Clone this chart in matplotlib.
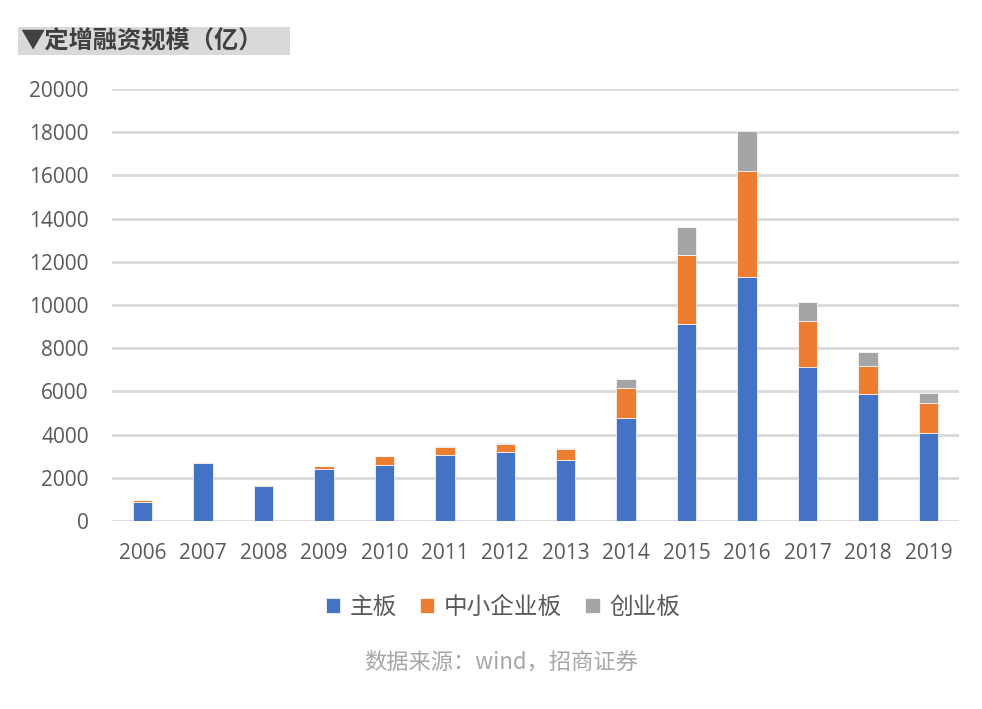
import numpy as np
import matplotlib
matplotlib.use("Agg")
import matplotlib.pyplot as plt
from matplotlib.patches import Rectangle

plt.rcParams['font.family'] = ['Noto Sans CJK SC', 'DejaVu Sans']

years = ['2006', '2007', '2008', '2009', '2010', '2011', '2012',
         '2013', '2014', '2015', '2016', '2017', '2018', '2019']
main_board = [900, 2680, 1600, 2420, 2600, 3070, 3180,
              2810, 4780, 9140, 11280, 7110, 5900, 4080]
sme_board = [80, 60, 60, 140, 410, 370, 390,
             510, 1380, 3170, 4940, 2150, 1270, 1380]
gem_board = [0, 0, 0, 0, 0, 20, 60,
             60, 390, 1310, 1830, 890, 640, 470]
series_names = ['主板', '中小企业板', '创业板']
colors = ['#4472C4', '#ED7D31', '#A5A5A5']

fig = plt.figure(figsize=(9.82, 7.09), dpi=100)
ax = fig.add_axes([0.1145, 0.2652, 0.8616, 0.6093])

x = np.arange(len(years))
w = 0.32
bottom = np.zeros(len(years))
for vals, name, col in zip([main_board, sme_board, gem_board], series_names, colors):
    vals = np.array(vals, dtype=float)
    ax.bar(x, vals, w, bottom=bottom, color=col, label=name,
           edgecolor='white', linewidth=0.5, zorder=3)
    bottom += vals

ax.set_xlim(-0.5, len(years) - 0.5)
ax.set_ylim(0, 20000)
ax.set_yticks(np.arange(0, 20001, 2000))
ax.set_xticks(x)
ax.set_xticklabels(years)
ax.yaxis.grid(True, color='#d9d9d9', linewidth=2, zorder=0)
ax.set_axisbelow(True)
for s in ax.spines.values():
    s.set_visible(False)
ax.tick_params(length=0, labelsize=15, colors='#595959')
for lab in ax.get_xticklabels() + ax.get_yticklabels():
    lab.set_family(['Open Sans', 'DejaVu Sans'])
ax.tick_params(axis='x', pad=16)
ax.tick_params(axis='y', pad=17)

fig.legend(loc='center', bbox_to_anchor=(0.512, 0.143), ncol=3, frameon=False,
           fontsize=17, handlelength=0.6, handleheight=0.6, handletextpad=0.4,
           columnspacing=1.0, labelcolor='#595959')

fig.patches.append(Rectangle((0.0183, 0.9224), 0.277, 0.0395, transform=fig.transFigure,
                             facecolor='#d9d9d9', edgecolor='none'))
fig.text(0.021, 0.942, '▼定增融资规模（亿）', fontsize=17.5, fontweight='bold',
         color='#404040', va='center', ha='left')

fig.text(0.51, 0.065, '数据来源：wind，招商证券', fontsize=16, color='#a6a6a6',
         ha='center', va='center')

fig.savefig('out.png', dpi=100)
